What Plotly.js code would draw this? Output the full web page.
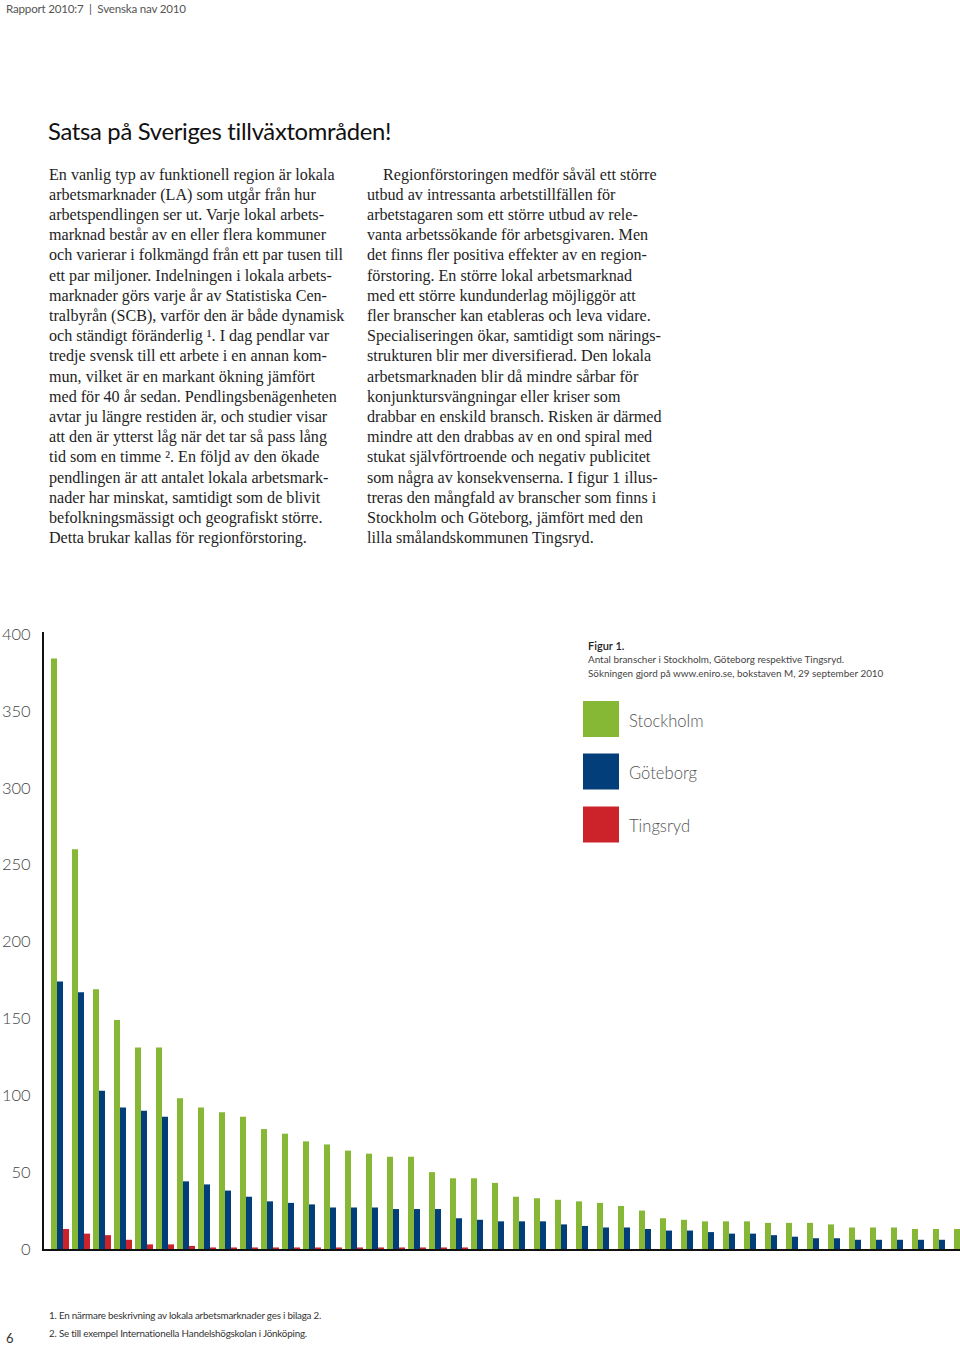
<!DOCTYPE html>
<html>
<head>
<meta charset="utf-8">
<script src="https://cdn.plot.ly/plotly-3.0.1.min.js"></script>
<style>
  html, body { margin:0; padding:0; background:#fff; }
  body { width:960px; height:1345px; position:relative; overflow:hidden; }
  #chart { position:absolute; left:0; top:0; width:960px; height:1345px; }
  .t { position:absolute; white-space:pre; z-index:2; }
  #hdr { left:6px; top:1px; font-family:Lato, sans-serif; font-size:11.6px; line-height:15px; color:#555; letter-spacing:-0.2px; }
  #title { left:48px; top:116px; font-family:Lato, sans-serif; font-size:23.8px; line-height:30px; color:#111; letter-spacing:-0.3px; }
  .col { top:164.5px; font-family:"Liberation Serif", serif; font-size:16.1px; line-height:20.2px; color:#1e1e1e; }
  #colL { left:49px; }
  #colR { left:367px; }
  .fn { left:49px; font-family:Lato, sans-serif; font-size:9.8px; line-height:12px; color:#333; letter-spacing:-0.2px; }
  #pg { left:6px; top:1330px; font-family:Lato, sans-serif; font-size:13px; line-height:16px; color:#333; }
</style>
</head>
<body>
<div id="chart"></div>
<div class="t" id="hdr">Rapport 2010:7  |  Svenska nav 2010</div>
<div class="t" id="title">Satsa på Sveriges tillväxtområden!</div>
<div class="t col" id="colL">En vanlig typ av funktionell region är lokala
arbetsmarknader (LA) som utgår från hur
arbetspendlingen ser ut. Varje lokal arbets-
marknad består av en eller flera kommuner
och varierar i folkmängd från ett par tusen till
ett par miljoner. Indelningen i lokala arbets-
marknader görs varje år av Statistiska Cen-
tralbyrån (SCB), varför den är både dynamisk
och ständigt föränderlig ¹. I dag pendlar var
tredje svensk till ett arbete i en annan kom-
mun, vilket är en markant ökning jämfört
med för 40 år sedan. Pendlingsbenägenheten
avtar ju längre restiden är, och studier visar
att den är ytterst låg när det tar så pass lång
tid som en timme ². En följd av den ökade
pendlingen är att antalet lokala arbetsmark-
nader har minskat, samtidigt som de blivit
befolkningsmässigt och geografiskt större.
Detta brukar kallas för regionförstoring.</div>
<div class="t col" id="colR">    Regionförstoringen medför såväl ett större
utbud av intressanta arbetstillfällen för
arbetstagaren som ett större utbud av rele-
vanta arbetssökande för arbetsgivaren. Men
det finns fler positiva effekter av en region-
förstoring. En större lokal arbetsmarknad
med ett större kundunderlag möjliggör att
fler branscher kan etableras och leva vidare.
Specialiseringen ökar, samtidigt som närings-
strukturen blir mer diversifierad. Den lokala
arbetsmarknaden blir då mindre sårbar för
konjunktursvängningar eller kriser som
drabbar en enskild bransch. Risken är därmed
mindre att den drabbas av en ond spiral med
stukat självförtroende och negativ publicitet
som några av konsekvenserna. I figur 1 illus-
treras den mångfald av branscher som finns i
Stockholm och Göteborg, jämfört med den
lilla smålandskommunen Tingsryd.</div>
<div class="t fn" style="top:1309px;">1. En närmare beskrivning av lokala arbetsmarknader ges i bilaga 2.</div>
<div class="t fn" style="top:1327px;">2. Se till exempel Internationella Handelshögskolan i Jönköping.</div>
<div class="t" id="pg">6</div>

<script>
// ---- data ----
const branscher = [1,2,3,4,5,6,7,8,9,10,11,12,13,14,15,16,17,18,19,20,21,22,23,24,25,26,27,28,29,30,31,32,33,34,35,36,37,38,39,40,41,42,43,44];
const seriesNames = ["Stockholm", "Göteborg", "Tingsryd"];
const stockholm = [384,260,169,149,131,131,98,92,89,86,78,75,70,68,64,62,60,60,50,46,46,43,34,33,32,31,30,28,25,20,19,18,18,18,17,17,17,16,14,14,14,13,13,13];
const goteborg  = [174,167,103,92,90,86,44,42,38,34,31,30,29,27,27,27,26,26,26,20,19,18,18,18,16,15,14,14,13,12,12,11,10,10,9,8,7,7,6,6,6,6,6,6];
const tingsryd  = [13,10,9,6,3,3,2,1,1,1,1,1,1,1,1,1,1,1,1,1,0,0,0,0,0,0,0,0,0,0,0,0,0,0,0,0,0,0,0,0,0,0,0,0];
const yTicks = [0,50,100,150,200,250,300,350,400];
const captionTitle = "Figur 1.";
const captionLines = ["Antal branscher i Stockholm, Göteborg respektive Tingsryd.",
                      "Sökningen gjord på www.eniro.se, bokstaven M, 29 september 2010"];

// ---- styling / layout ----
const colors = ["#86b735", "#023f7a", "#cc2229"];
const W = 960, H = 1345;
const mL = 44, mR = 0, mT = 632, mB = 96;
const plotW = W - mL - mR, plotH = H - mT - mB;
const px2x = p => (p - mL) / plotW;
const py2y = p => (H - mB - p) / plotH;

const xs = branscher.map(b => b - 1);
const vals = [stockholm, goteborg, tingsryd];
const traces = vals.map((v, i) => ({
  type: "bar", x: xs, y: v, name: seriesNames[i],
  marker: { color: colors[i], line: { width: 0 } },
  hoverinfo: "skip"
}));

const shapes = [];
const annotations = [];
const swTop = [701, 753.5, 806.5];
seriesNames.forEach((n, i) => {
  shapes.push({ type: "rect", xref: "paper", yref: "paper",
    x0: px2x(583), x1: px2x(619), y0: py2y(swTop[i] + 36), y1: py2y(swTop[i]),
    fillcolor: colors[i], line: { width: 0 } });
  annotations.push({ xref: "paper", yref: "paper", x: px2x(627), y: py2y(swTop[i] + 19.5),
    xanchor: "left", yanchor: "middle", showarrow: false, text: n,
    font: { family: "Lato, sans-serif", size: 16.6, color: "#555", weight: 300 } });
});
annotations.push({ xref: "paper", yref: "paper", x: px2x(586), y: py2y(645),
  xanchor: "left", yanchor: "middle", showarrow: false, text: captionTitle,
  font: { family: "Lato, sans-serif", size: 11, color: "#222", weight: 600 } });
captionLines.forEach((t, i) => {
  annotations.push({ xref: "paper", yref: "paper", x: px2x(586), y: py2y(659 + 13.5 * i),
    xanchor: "left", yanchor: "middle", showarrow: false, text: t,
    font: { family: "Lato, sans-serif", size: 9.9, color: "#444" } });
});

const layout = {
  width: W, height: H,
  margin: { l: mL, r: mR, t: mT, b: mB, pad: 0 },
  paper_bgcolor: "rgba(0,0,0,0)", plot_bgcolor: "rgba(0,0,0,0)",
  barmode: "group", bargap: 0.143, bargroupgap: 0,
  showlegend: false,
  xaxis: { range: [-16/21, 900/21], showgrid: false, zeroline: false,
    showticklabels: false, ticks: "", showline: true, linecolor: "#111", linewidth: 2 },
  yaxis: { range: [0, 617/1.5375], tickvals: yTicks, showgrid: false, zeroline: false,
    showline: true, linecolor: "#111", linewidth: 2, ticks: "", ticklabelstandoff: 8,
    tickfont: { family: "Lato, sans-serif", size: 16.5, color: "#444", weight: 300 } },
  shapes: shapes, annotations: annotations
};
Plotly.newPlot("chart", traces, layout, { staticPlot: true, displayModeBar: false });
</script>
</body>
</html>
